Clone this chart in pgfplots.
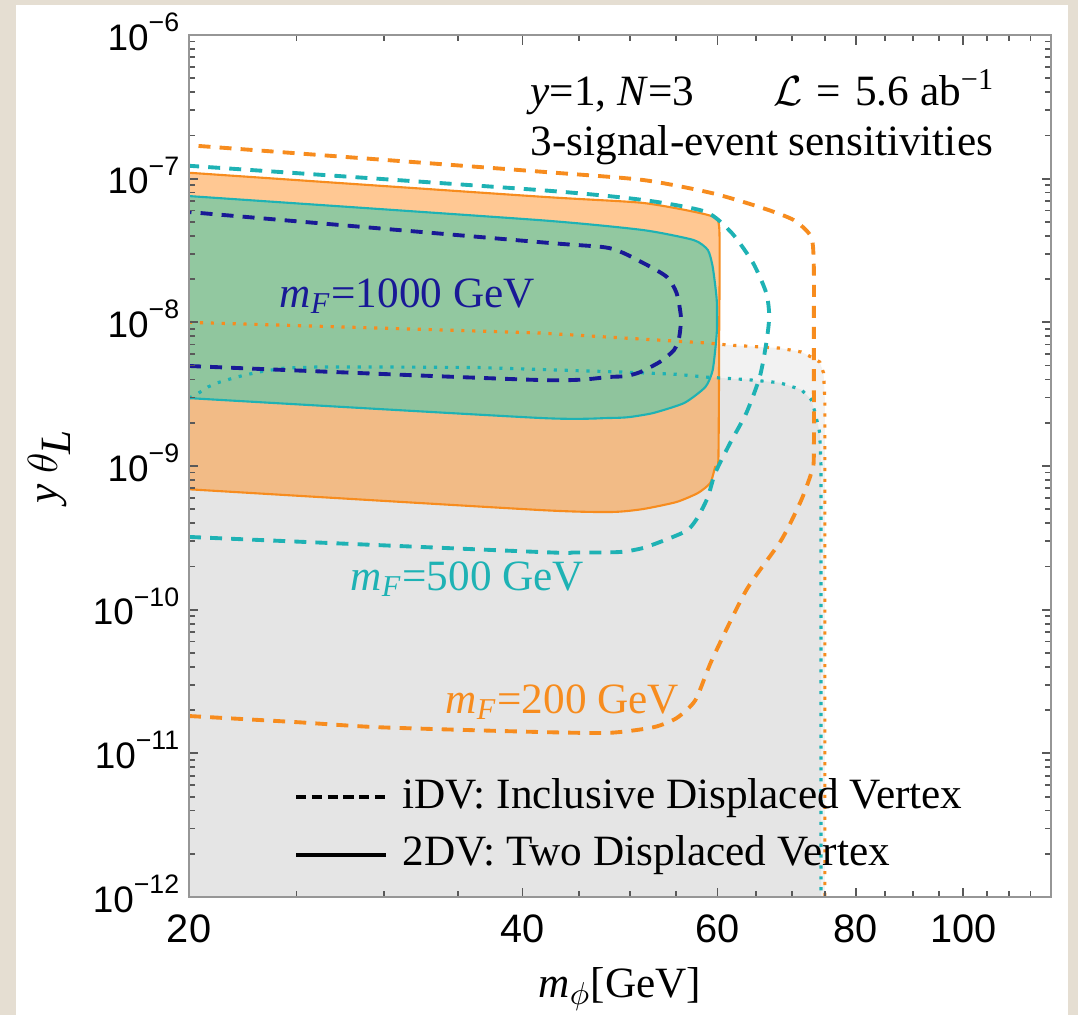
\documentclass[border=0pt]{standalone}
\usepackage{fontspec}
\setmainfont{Liberation Serif}
\setsansfont{Liberation Sans}
\usepackage{pgfplots}
\pgfplotsset{compat=1.18}

\definecolor{mOrange}{RGB}{247,140,30}
\definecolor{mCyan}{RGB}{30,178,180}
\definecolor{mBlue}{RGB}{25,25,150}
\definecolor{fillOrange}{RGB}{255,147,41}
\definecolor{fillGreen}{RGB}{110,200,165}
\definecolor{grayA}{RGB}{242,242,242}
\definecolor{grayB}{RGB}{229,229,229}
\definecolor{frameBeige}{RGB}{229,222,210}
\definecolor{axGray}{RGB}{150,150,150}

% tick label 10^-n in the sans font
\newcommand{\ylab}[1]{10\raisebox{5.3pt}{\fontsize{7.6}{8}\selectfont −#1}}

\begin{document}
\begin{tikzpicture}[x=1cm,y=1cm]
\useasboundingbox (0,0) rectangle (10.78,10.15);
\fill[frameBeige] (0,0) rectangle (10.78,10.15);
\fill[white] (0.16,0) rectangle (10.68,10.10);

\begin{axis}[
  at={(1.89cm,1.18cm)}, anchor=south west,
  scale only axis, width=8.62cm, height=8.62cm,
  xmode=log, ymode=log,
  xmin=20, xmax=120, ymin=1e-12, ymax=1e-6,
  axis on top,
  axis line style={axGray, line width=0.6pt},
  tick style={black!65, line width=0.5pt},
  major tick length=2.7pt, minor tick length=1.6pt,
  xtick={20,40,60,80,100}, xticklabels={20,40,60,80,100},
  minor xtick={25,30,35,45,50,55,65,70,75,85,90,95,105,110,115},
  ytick={1e-12,1e-11,1e-10,1e-9,1e-8,1e-7,1e-6},
  yticklabels={\ylab{12},\ylab{11},\ylab{10},\ylab{9},\ylab{8},\ylab{7},\ylab{6}},
  xticklabel style={anchor=base, yshift=-12.8pt, inner sep=0pt, font=\sffamily\fontsize{11.3}{12}\selectfont},
  yticklabel style={anchor=base east, xshift=-2.6pt, yshift=-4.3pt, inner sep=0pt, font=\sffamily\fontsize{10.5}{12}\selectfont},
]

% shaded regions below the dotted curves
\addplot[draw=none, fill=grayA] coordinates {
  (20,1.0e-8) (36.5,8.7e-9) (41.5,8.43e-9) (58.8,7.18e-9) (61.4,6.95e-9) (68.3,6.62e-9)
  (71.4,6.22e-9) (72.9,5.74e-9) (74.2,5.30e-9) (74.8,4.44e-9) (75.0,2.88e-9) (75.0,1e-12) (20,1e-12)
};
\addplot[draw=none, fill=grayB] coordinates {
  (20,2.97e-9) (20.4,3.22e-9) (20.8,3.55e-9) (21.2,3.79e-9) (22.1,4.17e-9) (23.1,4.51e-9)
  (24.4,4.81e-9) (26.1,4.89e-9) (30.1,4.89e-9) (36.5,4.85e-9) (41.5,4.70e-9) (49.6,4.50e-9)
  (55.1,4.35e-9) (58.8,4.15e-9) (63.7,4.00e-9) (68.3,3.80e-9) (71.4,3.40e-9) (72.9,2.90e-9)
  (73.5,2.34e-9) (74.2,1.70e-9) (74.4,9.8e-10) (74.4,1e-12) (20,1e-12)
};

% 2DV, m_F = 200 GeV
\addplot[smooth, tension=0.35, draw=mOrange, line width=0.6pt, fill=fillOrange, fill opacity=0.5] coordinates {
  (20,6.89e-10) (41.5,4.94e-10) (48.2,4.79e-10) (51.4,5.02e-10) (55.1,5.62e-10) (57.6,6.49e-10)
  (59.1,7.62e-10) (59.7,9.84e-10) (60.1,1.10e-9) (60.2,8.43e-9) (60.2,4.61e-8) (58.8,5.59e-8)
  (51.4,6.78e-8) (41.5,7.50e-8) (20,1.10e-7)
};
% 2DV, m_F = 500 GeV
\addplot[smooth, tension=0.35, draw=mCyan, line width=0.6pt, fill=fillGreen, fill opacity=0.75] coordinates {
  (20,2.97e-9) (41.5,2.16e-9) (47.9,2.16e-9) (49.9,2.19e-9) (52.5,2.34e-9) (56.0,2.75e-9)
  (58.5,3.55e-9) (59.4,4.66e-9) (59.9,8.43e-9) (59.9,1.43e-8) (59.4,2.43e-8) (58.8,3.19e-8)
  (57.1,3.74e-8) (51.4,4.39e-8) (41.4,5.15e-8) (20,7.57e-8)
};

% dotted curves
\addplot[mOrange, line width=0.9pt, dash pattern=on 0.9pt off 2.2pt] coordinates {
  (20,1.0e-8) (36.5,8.7e-9) (41.5,8.43e-9) (58.8,7.18e-9) (61.4,6.95e-9) (68.3,6.62e-9)
  (71.4,6.22e-9) (72.9,5.74e-9) (74.2,5.30e-9) (74.8,4.44e-9) (75.0,2.88e-9) (75.0,1e-12)
};
\addplot[mCyan, line width=0.9pt, dash pattern=on 0.9pt off 2.2pt] coordinates {
  (20,2.97e-9) (20.4,3.22e-9) (20.8,3.55e-9) (21.2,3.79e-9) (22.1,4.17e-9) (23.1,4.51e-9)
  (24.4,4.81e-9) (26.1,4.89e-9) (30.1,4.89e-9) (36.5,4.85e-9) (41.5,4.70e-9) (49.6,4.50e-9)
  (55.1,4.35e-9) (58.8,4.15e-9) (63.7,4.00e-9) (68.3,3.80e-9) (71.4,3.40e-9) (72.9,2.90e-9)
  (73.5,2.34e-9) (74.2,1.70e-9) (74.4,9.8e-10) (74.4,1e-12)
};

% iDV dashed curves
\addplot[smooth, tension=0.4, mOrange, line width=1.1pt, dash pattern=on 3.4pt off 2.6pt] coordinates {
  (20,1.82e-11) (25.0,1.65e-11) (29.7,1.52e-11) (41.2,1.41e-11) (47.9,1.39e-11) (52.5,1.52e-11)
  (55.1,1.76e-11) (57.3,2.35e-11) (59.3,4.47e-11) (63.7,1.37e-10) (68.5,3.05e-10)
  (71.4,5.79e-10) (72.9,8.93e-10) (73.3,1.16e-9) (73.3,8.43e-9) (73.3,2.43e-8) (72.9,3.93e-8)
  (70.3,5.15e-8) (65.9,6.25e-8) (59.3,7.94e-8) (51.4,9.79e-8) (41.5,1.12e-7) (20,1.71e-7)
};
\addplot[smooth, tension=0.4, mCyan, line width=1.1pt, dash pattern=on 3.4pt off 2.6pt] coordinates {
  (20,3.21e-10) (41.5,2.52e-10) (44.5,2.50e-10) (48.9,2.52e-10) (51.4,2.69e-10) (54.4,3.16e-10)
  (56.4,3.59e-10) (57.6,4.41e-10) (58.8,6.08e-10) (59.7,8.93e-10) (61.6,1.45e-9) (63.7,2.34e-9)
  (65.5,4.17e-9) (66.4,7.18e-9) (66.8,1.1e-8) (66.4,1.60e-8) (64.6,2.59e-8) (61.8,4.19e-8)
  (58.5,5.89e-8) (51.4,7.11e-8) (41.4,8.34e-8) (20,1.23e-7)
};
\addplot[smooth, tension=0.4, mBlue, line width=1.1pt, dash pattern=on 3.4pt off 2.6pt] coordinates {
  (20,4.97e-9) (41.5,3.97e-9) (47.9,4.17e-9) (49.6,4.23e-9) (51.1,4.51e-9) (53.2,5.30e-9)
  (54.8,6.41e-9) (55.4,7.91e-9) (55.6,1.09e-8) (55.1,1.60e-8) (54.0,2.07e-8) (51.4,2.59e-8)
  (47.9,3.29e-8) (41.4,3.62e-8) (20,5.86e-8)
};
\end{axis}

% annotations
\begin{scope}[every node/.style={inner sep=0pt, font=\fontsize{12.3}{14}\selectfont}]
\node[anchor=base west] at (5.30,9.10) {\textit{y}=1, \textit{N}=3};
\node[anchor=base west] at (7.73,9.10) {$\mathcal{L}$\hspace{4pt}=\hspace{4pt}5.6 ab\textsuperscript{−1}};
\node[anchor=base west] at (5.30,8.60) {3-signal-event sensitivities};
\node[anchor=base west, text=mBlue] at (2.79,7.08) {\textit{m}\textsubscript{\textit{F}}=1000 GeV};
\node[anchor=base west, text=mCyan] at (3.50,4.25) {\textit{m}\textsubscript{\textit{F}}=500 GeV};
\node[anchor=base west, text=mOrange] at (4.45,3.02) {\textit{m}\textsubscript{\textit{F}}=200 GeV};
\draw[black, line width=0.95pt, dash pattern=on 2.9pt off 1.6pt] (2.96,2.18) -- (3.85,2.18);
\node[anchor=base west] at (4.02,2.07) {iDV: Inclusive Displaced Vertex};
\draw[black, line width=0.9pt] (2.96,1.60) -- (3.86,1.60);
\node[anchor=base west] at (4.02,1.50) {2DV: Two Displaced Vertex};
\node[anchor=base] at (6.20,0.18) {\textit{m}$_{\phi}$[GeV]};
\node[anchor=base, rotate=90] at (0.57,5.49) {\textit{y} $\theta_{\textit{L}}$};
\end{scope}
\end{tikzpicture}
\end{document}
